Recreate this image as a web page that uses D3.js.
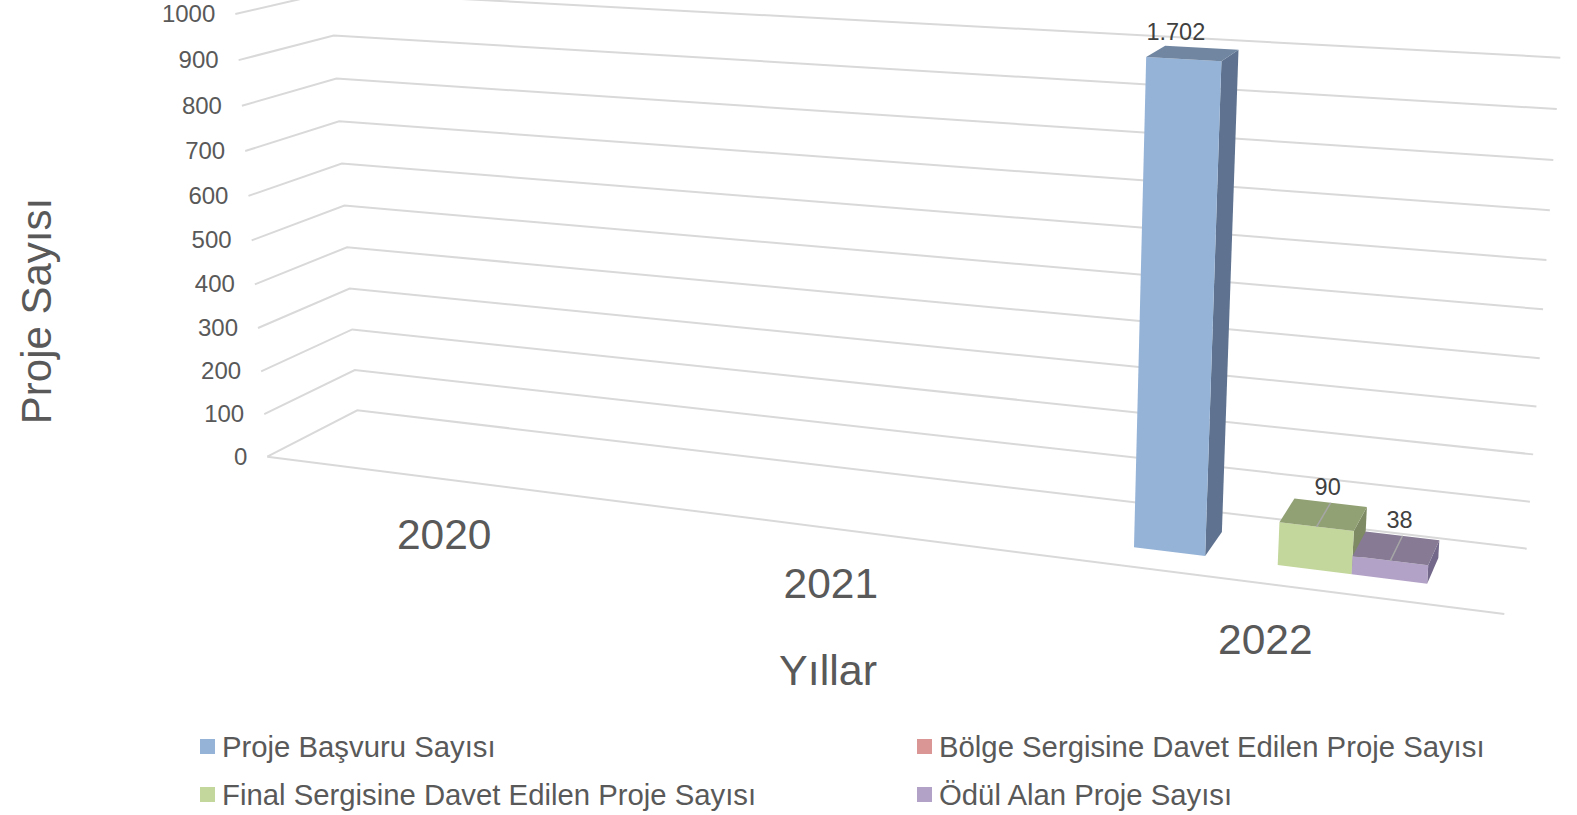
<!DOCTYPE html>
<html>
<head>
<meta charset="utf-8">
<script src="https://cdn.jsdelivr.net/npm/d3@7"></script>
<style>
  html, body { margin: 0; padding: 0; background: #fff; overflow: hidden; }
  text { font-family: "Liberation Sans", Arial, sans-serif; }
</style>
</head>
<body>
<script>
// chart values
const years = ["2020", "2021", "2022"];
const seriesNames = ["Proje Başvuru Sayısı", "Bölge Sergisine Davet Edilen Proje Sayısı", "Final Sergisine Davet Edilen Proje Sayısı", "Ödül Alan Proje Sayısı"];
const basvuru = [null, null, 1702];
const bolge = [null, null, null];
const final = [null, null, 90];
const odul = [null, null, 38];
const yTicks = [0, 100, 200, 300, 400, 500, 600, 700, 800, 900, 1000];
const seriesColors = ["#95b3d7", "#d99694", "#c3d69b", "#b3a2c7"];
const topColors = ["#7086a1", "#a37170", "#92a174", "#867a95"];
const sideColors = ["#5f7390", "#8b605f", "#7d8a63", "#73688a"];

const width = 1577, height = 815;
const svg = d3.select("body").append("svg").attr("width", width).attr("height", height);

// corners of the plot box on screen: floor quad, then the tops of three wall edges
const FL = [267.3, 456.7], FR = [1504.3, 614], BR = [1526.7, 548.7], BL = [357.3, 410.3];
const FLtop = [235.3, 14], BLtop = [331, -8], BRtop = [1560.3, 57.7];

// floor homography, a = along the years, d = depth
const dx1 = FR[0] - BR[0], dx2 = BL[0] - BR[0], sx = FL[0] - FR[0] + BR[0] - BL[0];
const dy1 = FR[1] - BR[1], dy2 = BL[1] - BR[1], sy = FL[1] - FR[1] + BR[1] - BL[1];
const det = dx1 * dy2 - dx2 * dy1;
const g = (sx * dy2 - dx2 * sy) / det, h = (dx1 * sy - sx * dy1) / det;
const A = FR[0] - FL[0] + g * FR[0], B = BL[0] - FL[0] + h * BL[0];
const D = FR[1] - FL[1] + g * FR[1], E = BL[1] - FL[1] + h * BL[1];
// perspective along the vertical
const k = -0.044;

// how much the numerator moves going up, at a corner of the floor
function rise(top, bottom, w0, i) {
  return top[i] * (w0 + k) - bottom[i] * w0;
}
const wFL = 1, wBL = 1 + h, wBR = 1 + g + h;
const riseFL = [0, 1].map(i => rise(FLtop, FL, wFL, i));
const riseBL = [0, 1].map(i => rise(BLtop, BL, wBL, i));
const riseBR = [0, 1].map(i => rise(BRtop, BR, wBR, i));

// value axis, bars above the maximum are cut off by the axis
const yScale = d3.scaleLinear().domain([0, 1000]).range([0, 1]).clamp(true);

function project(a, d, v) {
  const t = yScale(v);
  const w = g * a + h * d + k * t + 1;
  const rx = riseFL[0] + d * (riseBL[0] - riseFL[0]) + a * (riseBR[0] - riseBL[0]);
  const ry = riseFL[1] + d * (riseBL[1] - riseFL[1]) + a * (riseBR[1] - riseBL[1]);
  return [(A * a + B * d + FL[0] + rx * t) / w, (D * a + E * d + FL[1] + ry * t) / w];
}

const line = d3.line();

// grid lines on the two walls
svg.append("g").selectAll("path").data(yTicks).join("path")
  .attr("d", v => line([project(0, 0, v), project(0, 1, v), project(1, 1, v)]))
  .attr("fill", "none").attr("stroke", "#d9d9d9").attr("stroke-width", 2);
// front edge of the floor
svg.append("path").attr("d", line([project(0, 0, 0), project(1, 0, 0)]))
  .attr("fill", "none").attr("stroke", "#d9d9d9").attr("stroke-width", 2);

// y tick labels
svg.append("g").selectAll("text").data(yTicks).join("text")
  .attr("x", v => project(0, 0, v)[0] - 20)
  .attr("y", v => project(0, 0, v)[1] + 8)
  .attr("text-anchor", "end").attr("font-size", 24).attr("fill", "#595959")
  .text(d => d);

// category scale and series scale along the floor
const x0 = d3.scaleBand().domain(years).range([0, 1]);
const x1 = d3.scaleBand().domain(d3.range(4)).range([0, x0.bandwidth()]).paddingInner(0).paddingOuter(1.09).align(0.5);
const dFront = 0.29, dBack = 0.69;

const allSeries = [basvuru, bolge, final, odul];
const barsG = svg.append("g");
const labelsG = svg.append("g");
allSeries.forEach((vals, s) => {
  vals.forEach((v, i) => {
    if (v === null) return;
    const a0 = x0(years[i]) + x1(s), a1 = a0 + x1.bandwidth();
    const fb0 = project(a0, dFront, 0), fb1 = project(a1, dFront, 0), bb1 = project(a1, dBack, 0);
    const ft0 = project(a0, dFront, v), ft1 = project(a1, dFront, v), bt0 = project(a0, dBack, v), bt1 = project(a1, dBack, v);
    const bar = barsG.append("g");
    bar.append("path").attr("d", line([fb1, bb1, bt1, ft1]) + "Z").attr("fill", sideColors[s]);
    bar.append("path").attr("d", line([fb0, fb1, ft1, ft0]) + "Z").attr("fill", seriesColors[s]);
    bar.append("path").attr("d", line([ft0, ft1, bt1, bt0]) + "Z").attr("fill", topColors[s]);
    const midF = [(ft0[0] + ft1[0]) / 2, (ft0[1] + ft1[1]) / 2];
    const midB = [(bt0[0] + bt1[0]) / 2, (bt0[1] + bt1[1]) / 2];
    const clipped = v > yScale.domain()[1];
    // leader line, not there for the cut off bar
    if (!clipped) {
      labelsG.append("path").attr("d", line([midF, midB])).attr("stroke", "#a6a6a6").attr("stroke-width", 1.5).attr("fill", "none");
    }
    labelsG.append("text").attr("x", midB[0] + (clipped ? -26 : -3)).attr("y", midB[1] - 8)
      .attr("text-anchor", "middle").attr("font-size", 23.5).attr("fill", "#404040")
      .text(d3.format(",")(v).replace(",", "."));
  });
});

// year labels under the front edge
svg.append("g").selectAll("text").data(years).join("text")
  .attr("x", d => project(x0(d) + x0.bandwidth() / 2, 0, 0)[0] - 1)
  .attr("y", d => project(x0(d) + x0.bandwidth() / 2, 0, 0)[1] + 70)
  .attr("text-anchor", "middle").attr("font-size", 42.5).attr("fill", "#595959")
  .text(d => d);

// axis titles
svg.append("text").attr("x", 828).attr("y", 685).attr("text-anchor", "middle")
  .attr("font-size", 43).attr("fill", "#595959").text("Yıllar");
svg.append("text").attr("transform", "translate(51,311) rotate(-90)").attr("text-anchor", "middle")
  .attr("font-size", 42).attr("fill", "#595959").text("Proje Sayısı");

// legend
const legendX = [200, 917], legendY = [747, 795];
const legend = svg.append("g").selectAll("g").data(seriesNames).join("g")
  .attr("transform", (d, i) => `translate(${legendX[i % 2]},${legendY[Math.floor(i / 2)]})`);
legend.append("rect").attr("x", 0).attr("y", -8).attr("width", 15).attr("height", 15).attr("fill", (d, i) => seriesColors[i]);
legend.append("text").attr("x", 22).attr("y", 10).attr("font-size", 29.3).attr("fill", "#595959").text(d => d);
</script>
</body>
</html>
